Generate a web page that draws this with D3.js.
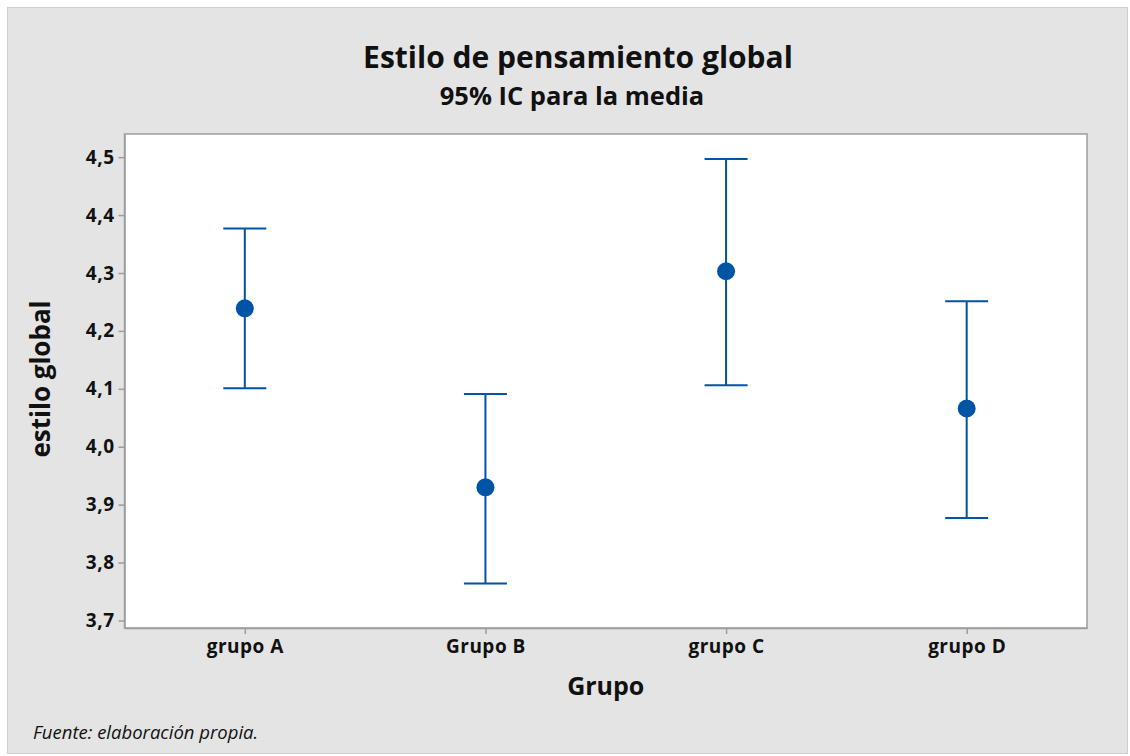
<!DOCTYPE html>
<html>
<head>
<meta charset="utf-8">
<script src="https://cdn.jsdelivr.net/npm/d3@7"></script>
<style>
  html, body { margin: 0; padding: 0; background: #fff; }
  svg { display: block; font-family: "Open Sans", "Noto Sans", sans-serif; }
</style>
</head>
<body>
<svg id="chart" width="1130" height="756"></svg>
<script>
// Data
const groups = ['grupo A', 'Grupo B', 'grupo C', 'grupo D'];
const means = [4.239, 3.930, 4.303, 4.066];
const lower = [4.101, 3.764, 4.106, 3.877];
const upper = [4.377, 4.091, 4.497, 4.251];
const yTicks = [3.7, 3.8, 3.9, 4.0, 4.1, 4.2, 4.3, 4.4, 4.5];

const W = 1130, H = 756;
const margin = { top: 134, right: 43, bottom: 128, left: 124.5 };
const BLUE = '#0054A6';
const AXIS = '#9c9c9c';
const FONT = '"Open Sans", "Noto Sans", sans-serif';

const svg = d3.select('#chart');

// background panel
svg.append('rect')
    .attr('x', 7.5).attr('y', 7.5)
    .attr('width', W - 10).attr('height', H - 10)
    .attr('fill', '#e4e4e4')
    .attr('stroke', '#cfcfcf')
    .attr('stroke-width', 1);

const innerW = W - margin.left - margin.right;
const innerH = H - margin.top - margin.bottom;

const x = d3.scalePoint()
    .domain(groups)
    .range([0, innerW])
    .padding(0.5);

const y = d3.scaleLinear()
    .domain([3.687, 4.540])
    .range([innerH, 0]);

const g = svg.append('g')
    .attr('transform', `translate(${margin.left},${margin.top})`);

g.append('rect')
    .attr('width', innerW).attr('height', innerH)
    .attr('fill', '#fff')
    .attr('stroke', AXIS)
    .attr('stroke-width', 1.5);

// axes
const fmt = d => d3.format('.1f')(d).replace('.', ',');
const yAxis = g.append('g')
    .call(d3.axisLeft(y).tickValues(yTicks).tickFormat(fmt)
        .tickSizeInner(6).tickSizeOuter(0).tickPadding(4));
const xAxis = g.append('g')
    .attr('transform', `translate(0,${innerH})`)
    .call(d3.axisBottom(x).tickSizeInner(6).tickSizeOuter(0).tickPadding(6));

[yAxis, xAxis].forEach(ax => {
    ax.attr('font-family', FONT);
    ax.select('.domain').attr('stroke', AXIS).attr('stroke-width', 1.5);
    ax.selectAll('.tick line').attr('stroke', AXIS).attr('stroke-width', 1.5);
    ax.selectAll('.tick text')
        .attr('fill', '#111')
        .style('font-size', '19px')
        .style('letter-spacing', '0.5px')
        .style('font-weight', 'bold');
});

// error bars
const capW = 43;
const bars = g.selectAll('.ci')
    .data(groups.map((grp, i) => ({ grp, m: means[i], lo: lower[i], hi: upper[i] })))
    .join('g')
    .attr('class', 'ci');

bars.append('line')
    .attr('x1', d => x(d.grp)).attr('x2', d => x(d.grp))
    .attr('y1', d => y(d.hi)).attr('y2', d => y(d.lo))
    .attr('stroke', BLUE).attr('stroke-width', 2);

['hi', 'lo'].forEach(k => {
    bars.append('line')
        .attr('x1', d => x(d.grp) - capW / 2).attr('x2', d => x(d.grp) + capW / 2)
        .attr('y1', d => y(d[k])).attr('y2', d => y(d[k]))
        .attr('stroke', BLUE).attr('stroke-width', 2);
});

bars.append('circle')
    .attr('cx', d => x(d.grp)).attr('cy', d => y(d.m))
    .attr('r', 9)
    .attr('fill', BLUE);

// titles
svg.append('text')
    .attr('x', 578).attr('y', 68)
    .attr('text-anchor', 'middle')
    .style('font-size', '30px').style('font-weight', 'bold')
    .attr('fill', '#111')
    .text('Estilo de pensamiento global');

svg.append('text')
    .attr('x', 572).attr('y', 105)
    .attr('text-anchor', 'middle')
    .style('font-size', '25.5px').style('font-weight', 'bold')
    .attr('fill', '#111')
    .text('95% IC para la media');

svg.append('text')
    .attr('x', margin.left + innerW / 2).attr('y', 695)
    .attr('text-anchor', 'middle')
    .style('font-size', '25px').style('font-weight', 'bold')
    .attr('fill', '#111')
    .text('Grupo');

svg.append('text')
    .attr('transform', `translate(50,${margin.top + innerH / 2 - 2}) rotate(-90)`)
    .attr('text-anchor', 'middle')
    .style('font-size', '26px').style('font-weight', 'bold')
    .attr('fill', '#111')
    .text('estilo global');

svg.append('text')
    .attr('x', 33).attr('y', 739)
    .style('font-size', '18.5px').style('font-style', 'italic')
    .attr('fill', '#111')
    .text('Fuente: elaboración propia.');
</script>
</body>
</html>
